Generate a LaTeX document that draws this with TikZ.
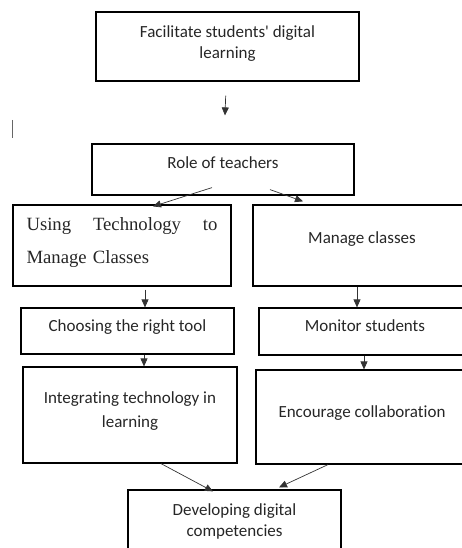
\documentclass[tikz,border=0pt]{standalone}
\usepackage{fontspec}
\setmainfont{Carlito}[Ligatures={TeXOff,CommonOff}]
\newfontfamily\timesfont{Liberation Serif}
\usetikzlibrary{arrows.meta}

\begin{document}
\begin{tikzpicture}[x=1pt,y=-1pt,
    box/.style={draw, line width=1.2pt, inner sep=0pt, align=center, text=black!85,
      font=\fontsize{17}{21}\selectfont},
    arr/.style={-{Triangle[length=8pt,width=7pt]}, line width=0.7pt, black!80}]
  \useasboundingbox (0,0) rectangle (462,548);
  \clip (0,0) rectangle (462,548);

  \node [box, minimum width=263pt, minimum height=69pt, text depth=9pt] (fac) at (227.5,46.5)
    {Facilitate students' digital\\learning};
  \draw [black!60, line width=0.8pt] (12,120) -- (12,138);

  \node [box, minimum width=262pt, minimum height=51pt, text depth=13pt] (role) at (223,169.5)
    {Role of teachers};

  % left branch
  \node [box, minimum width=218pt, minimum height=81pt, text depth=42pt, align=left,
    text width=191pt, font=\timesfont\fontsize{18.7}{33}\selectfont] (usetech) at (122,245.5)
    {Using\hfill Technology\hfill to\\Manage Classes};
  \node [box, minimum width=213pt, minimum height=46pt, text depth=11pt] (choose) at (127.5,331)
    {Choosing the right tool};
  \node [box, minimum width=214pt, minimum height=96pt, text depth=11pt,
    font=\fontsize{17}{23.5}\selectfont] (integ) at (130,415)
    {Integrating technology in\\learning};

  % right branch
  \node [box, minimum width=218pt, minimum height=81pt, text depth=16pt] (manage) at (362,245.5)
    {Manage classes};
  \node [box, minimum width=212pt, minimum height=47pt, text depth=12pt] (monitor) at (365,331.5)
    {Monitor students};
  \node [box, minimum width=212pt, minimum height=94pt, text depth=11pt] (encour) at (362,417)
    {Encourage collaboration};

  \node [box, minimum width=213pt, minimum height=62pt] (develop) at (234.5,521)
    {Developing digital\\competencies};

  \draw [arr, shorten <=14pt, shorten >=28pt] (fac) -- (role);
  \draw [arr] ([xshift=-11pt,yshift=8pt]role.south) -- ([xshift=31pt,yshift=-2pt]usetech.north);
  \draw [arr] ([xshift=47pt,yshift=6pt]role.south) -- ([xshift=-59pt,yshift=3pt]manage.north);
  \draw [arr] ([xshift=23pt,yshift=-3pt]usetech.south) -- ([xshift=17.5pt]choose.north);
  \draw [arr] ([xshift=-5pt]manage.south) -- ([xshift=-8pt]monitor.north);
  \draw [arr] ([xshift=16.5pt]choose.south) -- ([xshift=14pt]integ.north);
  \draw [arr] ([xshift=-1pt]monitor.south) -- ([xshift=2pt]encour.north);
  \draw [arr] ([xshift=31pt]integ.south) -- ([xshift=-21.5pt,yshift=-2pt]develop.north);
  \draw [arr] ([xshift=-34pt]encour.south) -- ([xshift=44.5pt,yshift=2pt]develop.north);
\end{tikzpicture}
\end{document}
